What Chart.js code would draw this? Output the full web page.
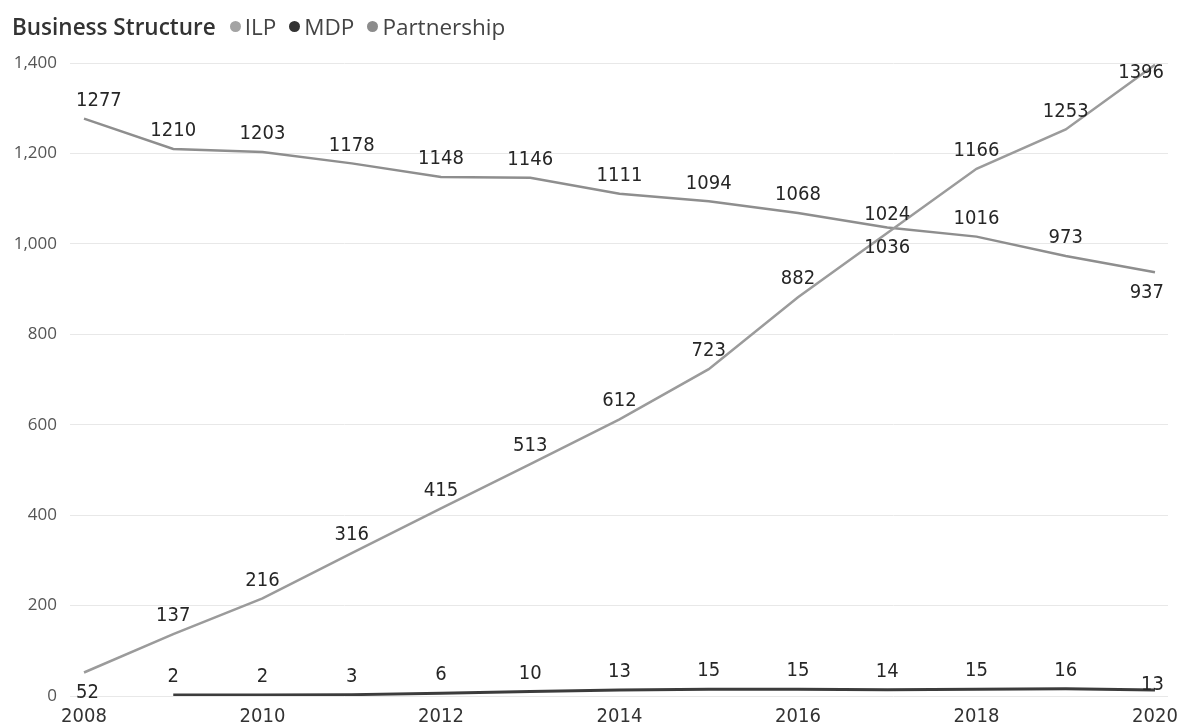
<!DOCTYPE html>
<html>
<head>
<meta charset="utf-8">
<script src="https://cdn.jsdelivr.net/npm/chart.js@4.4.0/dist/chart.umd.min.js"></script>
<style>
  html, body { margin: 0; padding: 0; background: #fff; }
  #wrap { position: relative; width: 1181px; height: 724px; }
  #legend {
    position: absolute; left: 12px; top: 11px;
    font-family: "Open Sans", sans-serif; font-size: 22.5px; color: #333;
    display: flex; align-items: center; white-space: nowrap; letter-spacing: 0;
  }
  #legend .title { font-weight: 600; margin-right: 14px; }
  #legend .item { display: flex; align-items: center; margin-right: 13px; color: #444; }
  #legend .dot { width: 11px; height: 11px; border-radius: 50%; margin-right: 4px; }
</style>
</head>
<body>
<div id="wrap">
  <canvas id="chart" width="1181" height="724"></canvas>
  <div id="legend"><span class="title">Business Structure</span></div>
</div>
<script>
// Year-by-year counts per business structure
const years = [2008, 2009, 2010, 2011, 2012, 2013, 2014, 2015, 2016, 2017, 2018, 2019, 2020];
const ilp = [52, 137, 216, 316, 415, 513, 612, 723, 882, 1024, 1166, 1253, 1396];
const mdp = [null, 2, 2, 3, 6, 10, 13, 15, 15, 14, 15, 16, 13];
const partnership = [1277, 1210, 1203, 1178, 1148, 1146, 1111, 1094, 1068, 1036, 1016, 973, 937];
const seriesNames = ['ILP', 'MDP', 'Partnership'];
const yTicks = [0, 200, 400, 600, 800, 1000, 1200, 1400];
const xTicks = [2008, 2010, 2012, 2014, 2016, 2018, 2020];

const lineColors = ['#9b9b9b', '#3c3c3c', '#8e8e8e'];
const dotColors = ['#a3a3a3', '#333333', '#8c8c8c'];

// legend
const legend = document.getElementById('legend');
seriesNames.forEach((name, i) => {
  const item = document.createElement('span');
  item.className = 'item';
  item.innerHTML = '<span class="dot" style="background:' + dotColors[i] + '"></span><span>' + name + '</span>';
  legend.appendChild(item);
});

const toPoints = vals => years.map((yr, i) => ({ x: yr, y: vals[i] }));

// label placement: default above the point; listed indices go below or on the line
const labelPlacement = {
  0: { below: [0] },
  1: { on: [12] },
  2: { below: [9, 12] }
};

const condensed = '"DejaVu Sans Condensed", "DejaVu Sans", sans-serif';

const valueLabels = {
  id: 'valueLabels',
  afterDatasetsDraw(chart) {
    const ctx = chart.ctx;
    const area = chart.chartArea;
    ctx.save();
    ctx.font = '20px ' + condensed;
    ctx.fillStyle = '#262626';
    ctx.textAlign = 'center';
    ctx.textBaseline = 'middle';
    chart.data.datasets.forEach((ds, di) => {
      const meta = chart.getDatasetMeta(di);
      const place = labelPlacement[di] || {};
      meta.data.forEach((pt, i) => {
        const v = ds.data[i].y;
        if (v === null || v === undefined) return;
        const txt = String(v);
        const w = ctx.measureText(txt).width;
        let x = pt.x;
        let y = pt.y - 18;
        if (place.below && place.below.includes(i)) y = pt.y + 20;
        if (place.on && place.on.includes(i)) y = pt.y - 5;
        if (x - w / 2 < area.left + 6) x = area.left + 6 + w / 2;
        if (x + w / 2 > area.right - 4) x = area.right - 4 - w / 2;
        if (y < area.top + 10) y = area.top + 10;
        ctx.fillText(txt, x, y);
      });
    });
    ctx.restore();
  }
};

new Chart(document.getElementById('chart'), {
  type: 'line',
  data: {
    datasets: [
      { label: seriesNames[0], data: toPoints(ilp), borderColor: lineColors[0], borderWidth: 2.5 },
      { label: seriesNames[1], data: toPoints(mdp), borderColor: lineColors[1], borderWidth: 3 },
      { label: seriesNames[2], data: toPoints(partnership), borderColor: lineColors[2], borderWidth: 2.5 }
    ]
  },
  options: {
    responsive: false,
    animation: false,
    events: [],
    elements: { point: { radius: 0 }, line: { tension: 0 } },
    layout: { padding: { top: 63, right: 13, left: 0, bottom: 0 } },
    plugins: { legend: { display: false }, tooltip: { enabled: false } },
    scales: {
      x: {
        type: 'linear',
        min: 2007.843,
        max: 2020.146,
        grid: { display: false },
        border: { display: false },
        afterFit(scale) { scale.height = 28; },
        afterBuildTicks(scale) { scale.ticks = xTicks.map(v => ({ value: v })); },
        ticks: {
          autoSkip: false,
          maxRotation: 0,
          padding: 1,
          color: '#333',
          font: { family: condensed, size: 20 },
          callback: v => String(v)
        }
      },
      y: {
        min: 0,
        max: 1400,
        grid: { color: '#e8e8e8', lineWidth: 1, drawTicks: false },
        border: { display: false },
        afterFit(scale) { scale.width = 70; },
        afterBuildTicks(scale) { scale.ticks = yTicks.map(v => ({ value: v })); },
        ticks: {
          padding: 13,
          color: '#555',
          font: { family: '"Open Sans", sans-serif', size: 17 },
          callback: v => v.toLocaleString('en-US')
        }
      }
    }
  },
  plugins: [valueLabels]
});
</script>
</body>
</html>
